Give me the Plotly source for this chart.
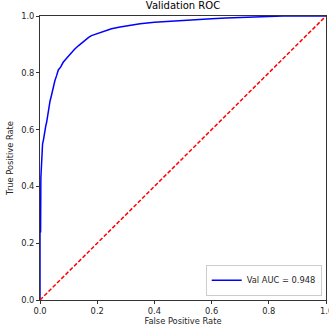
import plotly.graph_objects as go

fpr = [0.0, 0.0, 0.002, 0.003, 0.004, 0.006, 0.009, 0.012, 0.014, 0.016, 0.020, 0.023, 0.027,
       0.031, 0.035, 0.040, 0.046, 0.052, 0.058, 0.064, 0.072, 0.081, 0.090, 0.10, 0.11,
       0.12, 0.134, 0.145, 0.16, 0.17, 0.18, 0.20, 0.22, 0.25, 0.28, 0.30, 0.33, 0.35,
       0.40, 0.443, 0.48, 0.52, 0.56, 0.60, 0.65, 0.70, 0.75, 0.80, 0.85, 1.0]
tpr = [0.0, 0.24, 0.24, 0.43, 0.45, 0.50, 0.55, 0.563, 0.58, 0.60, 0.612, 0.625, 0.65,
       0.69, 0.70, 0.72, 0.75, 0.772, 0.79, 0.81, 0.82, 0.837, 0.848, 0.86, 0.872,
       0.882, 0.895, 0.905, 0.918, 0.925, 0.931, 0.938, 0.945, 0.955, 0.961, 0.965, 0.970, 0.973,
       0.978, 0.981, 0.984, 0.986, 0.988, 0.990, 0.993, 0.995, 0.997, 0.998, 1.0, 1.0]
auc_label = "Val AUC = 0.948"
diag = [0.0, 1.0]
ticks = [0.0, 0.2, 0.4, 0.6, 0.8, 1.0]
tick_text = ["0.0", "0.2", "0.4", "0.6", "0.8", "1.0"]

FS = 8.3

fig = go.Figure()
fig.add_trace(go.Scatter(x=fpr, y=tpr, mode="lines", name=auc_label,
                         line=dict(color="#0000ff", width=1.5), showlegend=True))
fig.add_trace(go.Scatter(x=diag, y=diag, mode="lines", showlegend=False,
                         line=dict(color="#ff0000", width=1.5, dash="4px,2px")))

axis_common = dict(range=[0, 1], tickvals=ticks, ticktext=tick_text, showgrid=False,
                   zeroline=False, showline=True, linecolor="#333333", linewidth=1, mirror=True,
                   ticks="outside", ticklen=3, tickwidth=0.8, tickcolor="#333333",
                   automargin=False,
                   tickfont=dict(family="DejaVu Sans", size=FS, color="#262626"))

fig.update_layout(
    width=329, height=328,
    margin=dict(l=40, r=3, t=16, b=28, autoexpand=False),
    paper_bgcolor="white", plot_bgcolor="white",
    title=dict(text="Validation ROC", x=0.5, xanchor="center", xref="paper", y=0.993, yanchor="top",
               font=dict(family="DejaVu Sans", size=10, color="#000000")),
    xaxis=dict(axis_common, title=dict(text="False Positive Rate", standoff=3,
                                        font=dict(family="DejaVu Sans", size=FS, color="#262626"))),
    yaxis=dict(axis_common, title=dict(text="True Positive Rate", standoff=6,
                                        font=dict(family="DejaVu Sans", size=FS, color="#262626"))),
    legend=dict(x=0.985, y=0.015, xanchor="right", yanchor="bottom",
                bgcolor="rgba(255,255,255,0.8)", bordercolor="#cccccc", borderwidth=1,
                font=dict(family="DejaVu Sans", size=FS, color="#262626"),
                itemwidth=30, tracegroupgap=0),
)

# last x tick label overflows the right edge (as in the reference), draw it as text
fig.add_annotation(x=ticks[-1], y=0, xref="x", yref="paper", text=tick_text[-1],
                   showarrow=False, yanchor="top", yshift=-4, xanchor="center",
                   font=dict(family="DejaVu Sans", size=FS, color="#262626"))

fig.write_html("out.html", config={"displayModeBar": False},
               post_script="document.body.style.margin='0';document.body.style.overflow='hidden';")
